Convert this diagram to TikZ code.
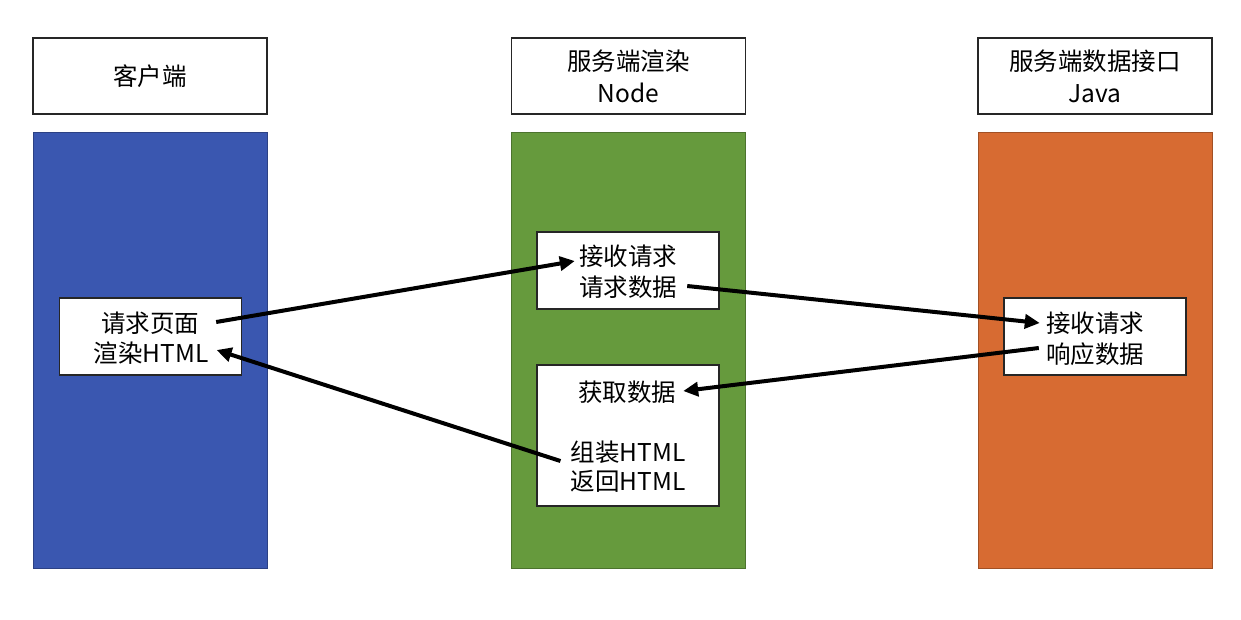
\documentclass[tikz,border=0pt]{standalone}
\usepackage{fontspec}
\setmainfont{Noto Sans CJK SC}
\usetikzlibrary{arrows.meta,calc}
\definecolor{cblue}{HTML}{3A57B0}
\definecolor{cgreen}{HTML}{669A3D}
\definecolor{corange}{HTML}{D76B32}
\begin{document}
\begin{tikzpicture}[x=1pt,y=-1pt,
  header/.style={draw=black!85,line width=1.3pt,fill=white,minimum width=234pt,minimum height=76pt,inner sep=0pt,align=center,font=\fontsize{24.5}{32}\selectfont},
  column/.style={draw=#1!75!black,line width=1pt,fill=#1,minimum width=234pt,minimum height=436pt,inner sep=0pt},
  inbox/.style={draw=black!85,line width=1.3pt,fill=white,minimum width=182pt,inner sep=0pt},
  txt/.style={inner sep=0pt,font=\fontsize{24.5}{32}\selectfont},
  arr/.style={line width=4pt,-{Triangle[length=15pt,width=14pt]}}]
\useasboundingbox (0,0) rectangle (1241,619);
% headers
\node[header] (h1) at (150,76) {客户端};
\node[header] (h2) at (628.5,76) {服务端渲染\\Node};
\node[header] (h3) at (1095,76) {服务端数据接口\\Java};
% columns
\node[column=cblue] (col1) at (150,350) {};
\node[column=cgreen] (col2) at (628.5,350) {};
\node[column=corange] (col3) at (1095,350) {};
% inner boxes
\node[inbox,minimum height=77pt] (b1) at (150.5,336.5) {};
\node[inbox,minimum height=77pt] (b2) at (628,270.5) {};
\node[inbox,minimum height=141pt] (b3) at (628,435.5) {};
\node[inbox,minimum height=77pt] (b4) at (1095,336.5) {};
% texts
\node[txt] (c1) at (150,323) {请求页面};
\node[txt] (c2) at (151,353) {渲染HTML};
\node[txt] (m1) at (628,256) {接收请求};
\node[txt] (m2) at (628,287) {请求数据};
\node[txt] (m3) at (627,392) {获取数据};
\node[txt] (m4) at (628,452) {组装HTML};
\node[txt] (m5) at (628,481) {返回HTML};
\node[txt] (r1) at (1095,323) {接收请求};
\node[txt] (r2) at (1095,354) {响应数据};
% arrows
\draw[arr] ($(c1.east)+(17,-1)$) -- ($(m1.west)+(-4,5)$);
\draw[arr] ($(m2.east)+(10,-1)$) -- ($(r1.west)+(-6,0)$);
\draw[arr] ($(r2.west)+(-7,-6)$) -- ($(m3.east)+(7,-1)$);
\draw[arr] ($(m4.west)+(-10,9)$) -- ($(c2.east)+(8,-3)$);
\end{tikzpicture}
\end{document}
